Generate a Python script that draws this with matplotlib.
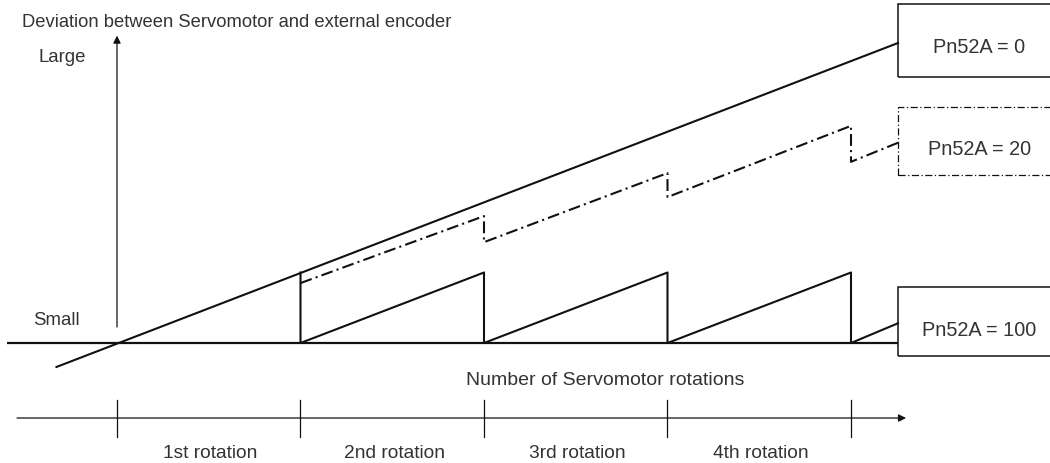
import matplotlib.pyplot as plt
from matplotlib.patches import Rectangle

plt.rcParams['font.family'] = ['Liberation Sans', 'DejaVu Sans']

# x = servomotor rotations, y = deviation (one rotation's worth of error = 1)
rot_edges = [0, 1, 2, 3, 4]
rot_labels = ['1st rotation', '2nd rotation', '3rd rotation', '4th rotation']

# Pn52A = 0 : no compensation, deviation keeps growing
pn0_x = [-0.33, 4.256]
pn0_y = [-0.34, 4.255]

# Pn52A = 20 : partial correction at every rotation
pn20_x = [1, 2, 2, 3, 3, 4, 4, 4.256]
pn20_y = [0.85, 1.80, 1.43, 2.41, 2.07, 3.08, 2.57, 2.84]

# Pn52A = 100 : full correction at every rotation
pn100_x = [1, 1, 2, 2, 3, 3, 4, 4, 4.256]
pn100_y = [1.0, 0, 1.0, 0, 1.0, 0, 1.0, 0, 0.28]

box_labels = ['Pn52A = 0', 'Pn52A = 20', 'Pn52A = 100']
box_tops = [4.81, 3.35, 0.79]
box_bottoms = [3.77, 2.38, -0.18]
box_text_y = [4.113, 2.667, 0.099]

ink = '#111111'
txt = '#333333'
dashdot = (0, (5.7, 2.0, 1.0, 2.0))

fig = plt.figure(figsize=(10.5, 4.63), dpi=100)
ax = fig.add_axes([0, 0, 1, 1])
ax.set_xlim(-0.6376, 5.0845)
ax.set_ylim(-1.702, 4.865)
ax.axis('off')

# deviation axis
ax.annotate('', xy=(0, 4.36), xytext=(0, 0.227),
            arrowprops=dict(arrowstyle='-|>', color=ink, lw=0.9,
                            mutation_scale=11, shrinkA=0, shrinkB=0))
ax.text(-0.518, 4.482, 'Deviation between Servomotor and external encoder',
        fontsize=13.2, color=txt, va='baseline', ha='left')
ax.text(-0.430, 3.986, 'Large', fontsize=13.4, color=txt, va='baseline', ha='left')
ax.text(-0.458, 0.255, 'Small', fontsize=13.4, color=txt, va='baseline', ha='left')

# zero-deviation baseline
ax.plot([-0.60, 4.256], [0, 0], color=ink, lw=1.6, solid_capstyle='butt')

ax.plot(pn0_x, pn0_y, color=ink, lw=1.5)
ax.plot(pn20_x, pn20_y, color=ink, lw=1.5, linestyle=dashdot)
ax.plot(pn100_x, pn100_y, color=ink, lw=1.5)

# parameter boxes
for i, lab in enumerate(box_labels):
    ls = dashdot if i == 1 else '-'
    lw = 0.9 if i == 1 else 1.1
    ax.add_patch(Rectangle((4.256, box_bottoms[i]), 2.0,
                           box_tops[i] - box_bottoms[i],
                           fill=False, edgecolor=ink, lw=lw, linestyle=ls))
    ax.text(4.70, box_text_y[i], lab, fontsize=14.3, color=txt,
            ha='center', va='baseline')

# rotation count axis
ax.text(2.659, -0.596, 'Number of Servomotor rotations', fontsize=14,
        color=txt, ha='center', va='baseline')
ax.annotate('', xy=(4.30, -1.064), xytext=(-0.545, -1.064),
            arrowprops=dict(arrowstyle='-|>', color=ink, lw=0.9,
                            mutation_scale=11, shrinkA=0, shrinkB=0))
for xe in rot_edges:
    ax.plot([xe, xe], [-0.809, -1.333], color=ink, lw=0.9)
for i, lab in enumerate(rot_labels):
    xm = (rot_edges[i] + rot_edges[i + 1]) / 2 + 0.01
    ax.text(xm, -1.625, lab, fontsize=13.8, color=txt, ha='center', va='baseline')

fig.savefig('out.png', dpi=100)
